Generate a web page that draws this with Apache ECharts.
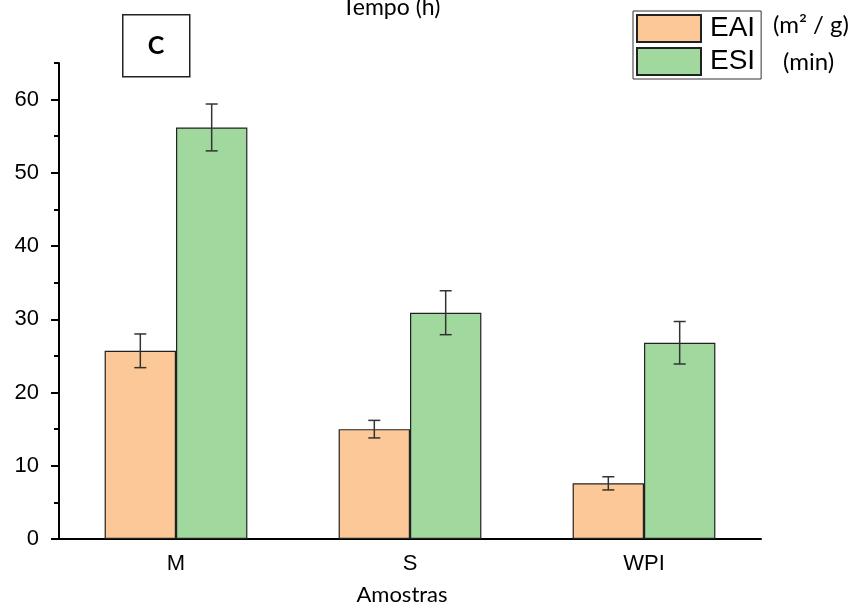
<!DOCTYPE html>
<html>
<head>
<meta charset="utf-8">
<script src="https://cdn.jsdelivr.net/npm/echarts@6/dist/echarts.min.js"></script>
<style>
  html, body { margin: 0; padding: 0; background: #fff; }
  #chart { width: 856px; height: 608px; }
</style>
</head>
<body>
<div id="chart"></div>
<script>
// Amostras on the x axis, EAI (m2/g) and ESI (min) as bars with error bars
const categories = ['M', 'S', 'WPI']
const eaiValues = [25.7, 15.0, 7.6]
const eaiErrors = [2.3, 1.2, 0.9]
const esiValues = [56.2, 30.9, 26.8]
const esiErrors = [3.2, 3.0, 2.9]
const majorTicks = [0, 10, 20, 30, 40, 50, 60]

const EAI_COLOR = '#fcc897'
const ESI_COLOR = '#a0d89d'
const BAR_WIDTH = 0.305 // fraction of category width per bar

const chart = echarts.init(document.getElementById('chart'), null, { renderer: 'canvas' })

// error bar data: [categoryIndex, low, high]
const errData = (vals, errs) => vals.map((v, i) => [i, v - errs[i], v + errs[i]])

// side: -1 left bar (EAI), +1 right bar (ESI)
const errorSeries = (name, vals, errs, side) => ({
  name: name + ' err',
  type: 'custom',
  xAxisIndex: 0,
  yAxisIndex: 0,
  data: errData(vals, errs),
  encode: { x: 0, y: [1, 2] },
  z: 10,
  silent: true,
  renderItem: (params, api) => {
    const bandW = api.size([1, 0])[0]
    const dx = side * bandW * BAR_WIDTH / 2
    const lo = api.coord([api.value(0), api.value(1)])
    const hi = api.coord([api.value(0), api.value(2)])
    const x = lo[0] + dx
    const cap = 6
    const style = { stroke: '#333', lineWidth: 1.5 }
    return {
      type: 'group',
      children: [
        { type: 'line', shape: { x1: x, y1: lo[1], x2: x, y2: hi[1] }, style },
        { type: 'line', shape: { x1: x - cap, y1: lo[1], x2: x + cap, y2: lo[1] }, style },
        { type: 'line', shape: { x1: x - cap, y1: hi[1], x2: x + cap, y2: hi[1] }, style },
      ],
    }
  },
})

const option = {
  animation: false,
  backgroundColor: '#fff',
  textStyle: { fontFamily: 'Liberation Sans' },
  grid: { left: 59, right: 95, top: 63, bottom: 69, containLabel: false, outerBoundsMode: 'none' },
  legend: {
    data: ['EAI', 'ESI'],
    orient: 'vertical',
    left: 633,
    top: 11,
    padding: [3, 6, 3, 3],
    itemGap: 4,
    itemWidth: 64,
    itemHeight: 27,
    icon: 'rect',
    borderColor: '#333',
    borderWidth: 1,
    textStyle: { fontSize: 28, lineHeight: 27, color: '#000', fontFamily: 'Liberation Sans', padding: [2, 0, 0, 4] },
  },
  xAxis: [
    {
      type: 'category',
      data: categories,
      name: 'Amostras',
      nameLocation: 'middle',
      nameGap: 45,
      nameTextStyle: { fontSize: 22, color: '#000', fontFamily: 'Lato', padding: [0, 16, 0, 0] },
      axisLine: { lineStyle: { color: '#000', width: 2 } },
      axisTick: { alignWithLabel: true, length: 8, lineStyle: { color: '#000', width: 2 } },
      axisLabel: { fontSize: 22, color: '#000', margin: 14 },
    },
    {
      // short ticks on the category boundaries
      type: 'category',
      data: categories,
      position: 'bottom',
      axisLine: { show: false },
      axisTick: { length: 5, lineStyle: { color: '#000', width: 2 } },
      axisLabel: { show: false },
    },
  ],
  yAxis: [
    {
      type: 'value',
      min: 0,
      max: 65,
      interval: 5,
      axisLine: { show: true, lineStyle: { color: '#000', width: 2 } },
      axisTick: { show: true, length: 5, lineStyle: { color: '#000', width: 2 } },
      axisLabel: {
        fontSize: 22,
        color: '#000',
        margin: 20,
        formatter: (v) => (v % 10 === 0 && v <= 60 ? String(v) : ''),
      },
      splitLine: { show: false },
    },
    {
      type: 'value',
      min: 0,
      max: 65,
      interval: 10,
      position: 'left',
      axisLine: { show: false },
      axisTick: { show: true, length: 8, customValues: majorTicks, lineStyle: { color: '#000', width: 2 } },
      axisLabel: { show: false },
      splitLine: { show: false },
    },
  ],
  graphic: [
    {
      type: 'text',
      x: 342,
      y: 8,
      style: { text: 'Tempo (h)', fontSize: 23, fontFamily: 'Lato', fill: '#000', verticalAlign: 'middle' },
    },
    {
      type: 'rect',
      left: 122,
      top: 14,
      shape: { width: 67, height: 62 },
      style: { fill: '#fff', stroke: '#222', lineWidth: 1.5 },
    },
    {
      type: 'text',
      x: 156,
      y: 46,
      style: { text: 'C', fontSize: 25, fontWeight: 'bold', fontFamily: 'Lato', fill: '#000', align: 'center', verticalAlign: 'middle' },
    },
    {
      type: 'text',
      x: 773,
      y: 25,
      style: { text: '(m² / g)', fontSize: 24, fontFamily: 'Lato', fill: '#000', verticalAlign: 'middle' },
    },
    {
      type: 'text',
      x: 783,
      y: 62,
      style: { text: '(min)', fontSize: 24, fontFamily: 'Lato', fill: '#000', verticalAlign: 'middle' },
    },
  ],
  series: [
    {
      name: 'EAI',
      type: 'bar',
      data: eaiValues,
      barWidth: (BAR_WIDTH * 100) + '%',
      barGap: '0%',
      itemStyle: { color: EAI_COLOR, borderColor: '#222', borderWidth: 1.2 },
    },
    {
      name: 'ESI',
      type: 'bar',
      data: esiValues,
      barWidth: (BAR_WIDTH * 100) + '%',
      barGap: '0%',
      itemStyle: { color: ESI_COLOR, borderColor: '#222', borderWidth: 1.2 },
    },
    errorSeries('EAI', eaiValues, eaiErrors, -1),
    errorSeries('ESI', esiValues, esiErrors, 1),
  ],
}

chart.setOption(option)
</script>
</body>
</html>
